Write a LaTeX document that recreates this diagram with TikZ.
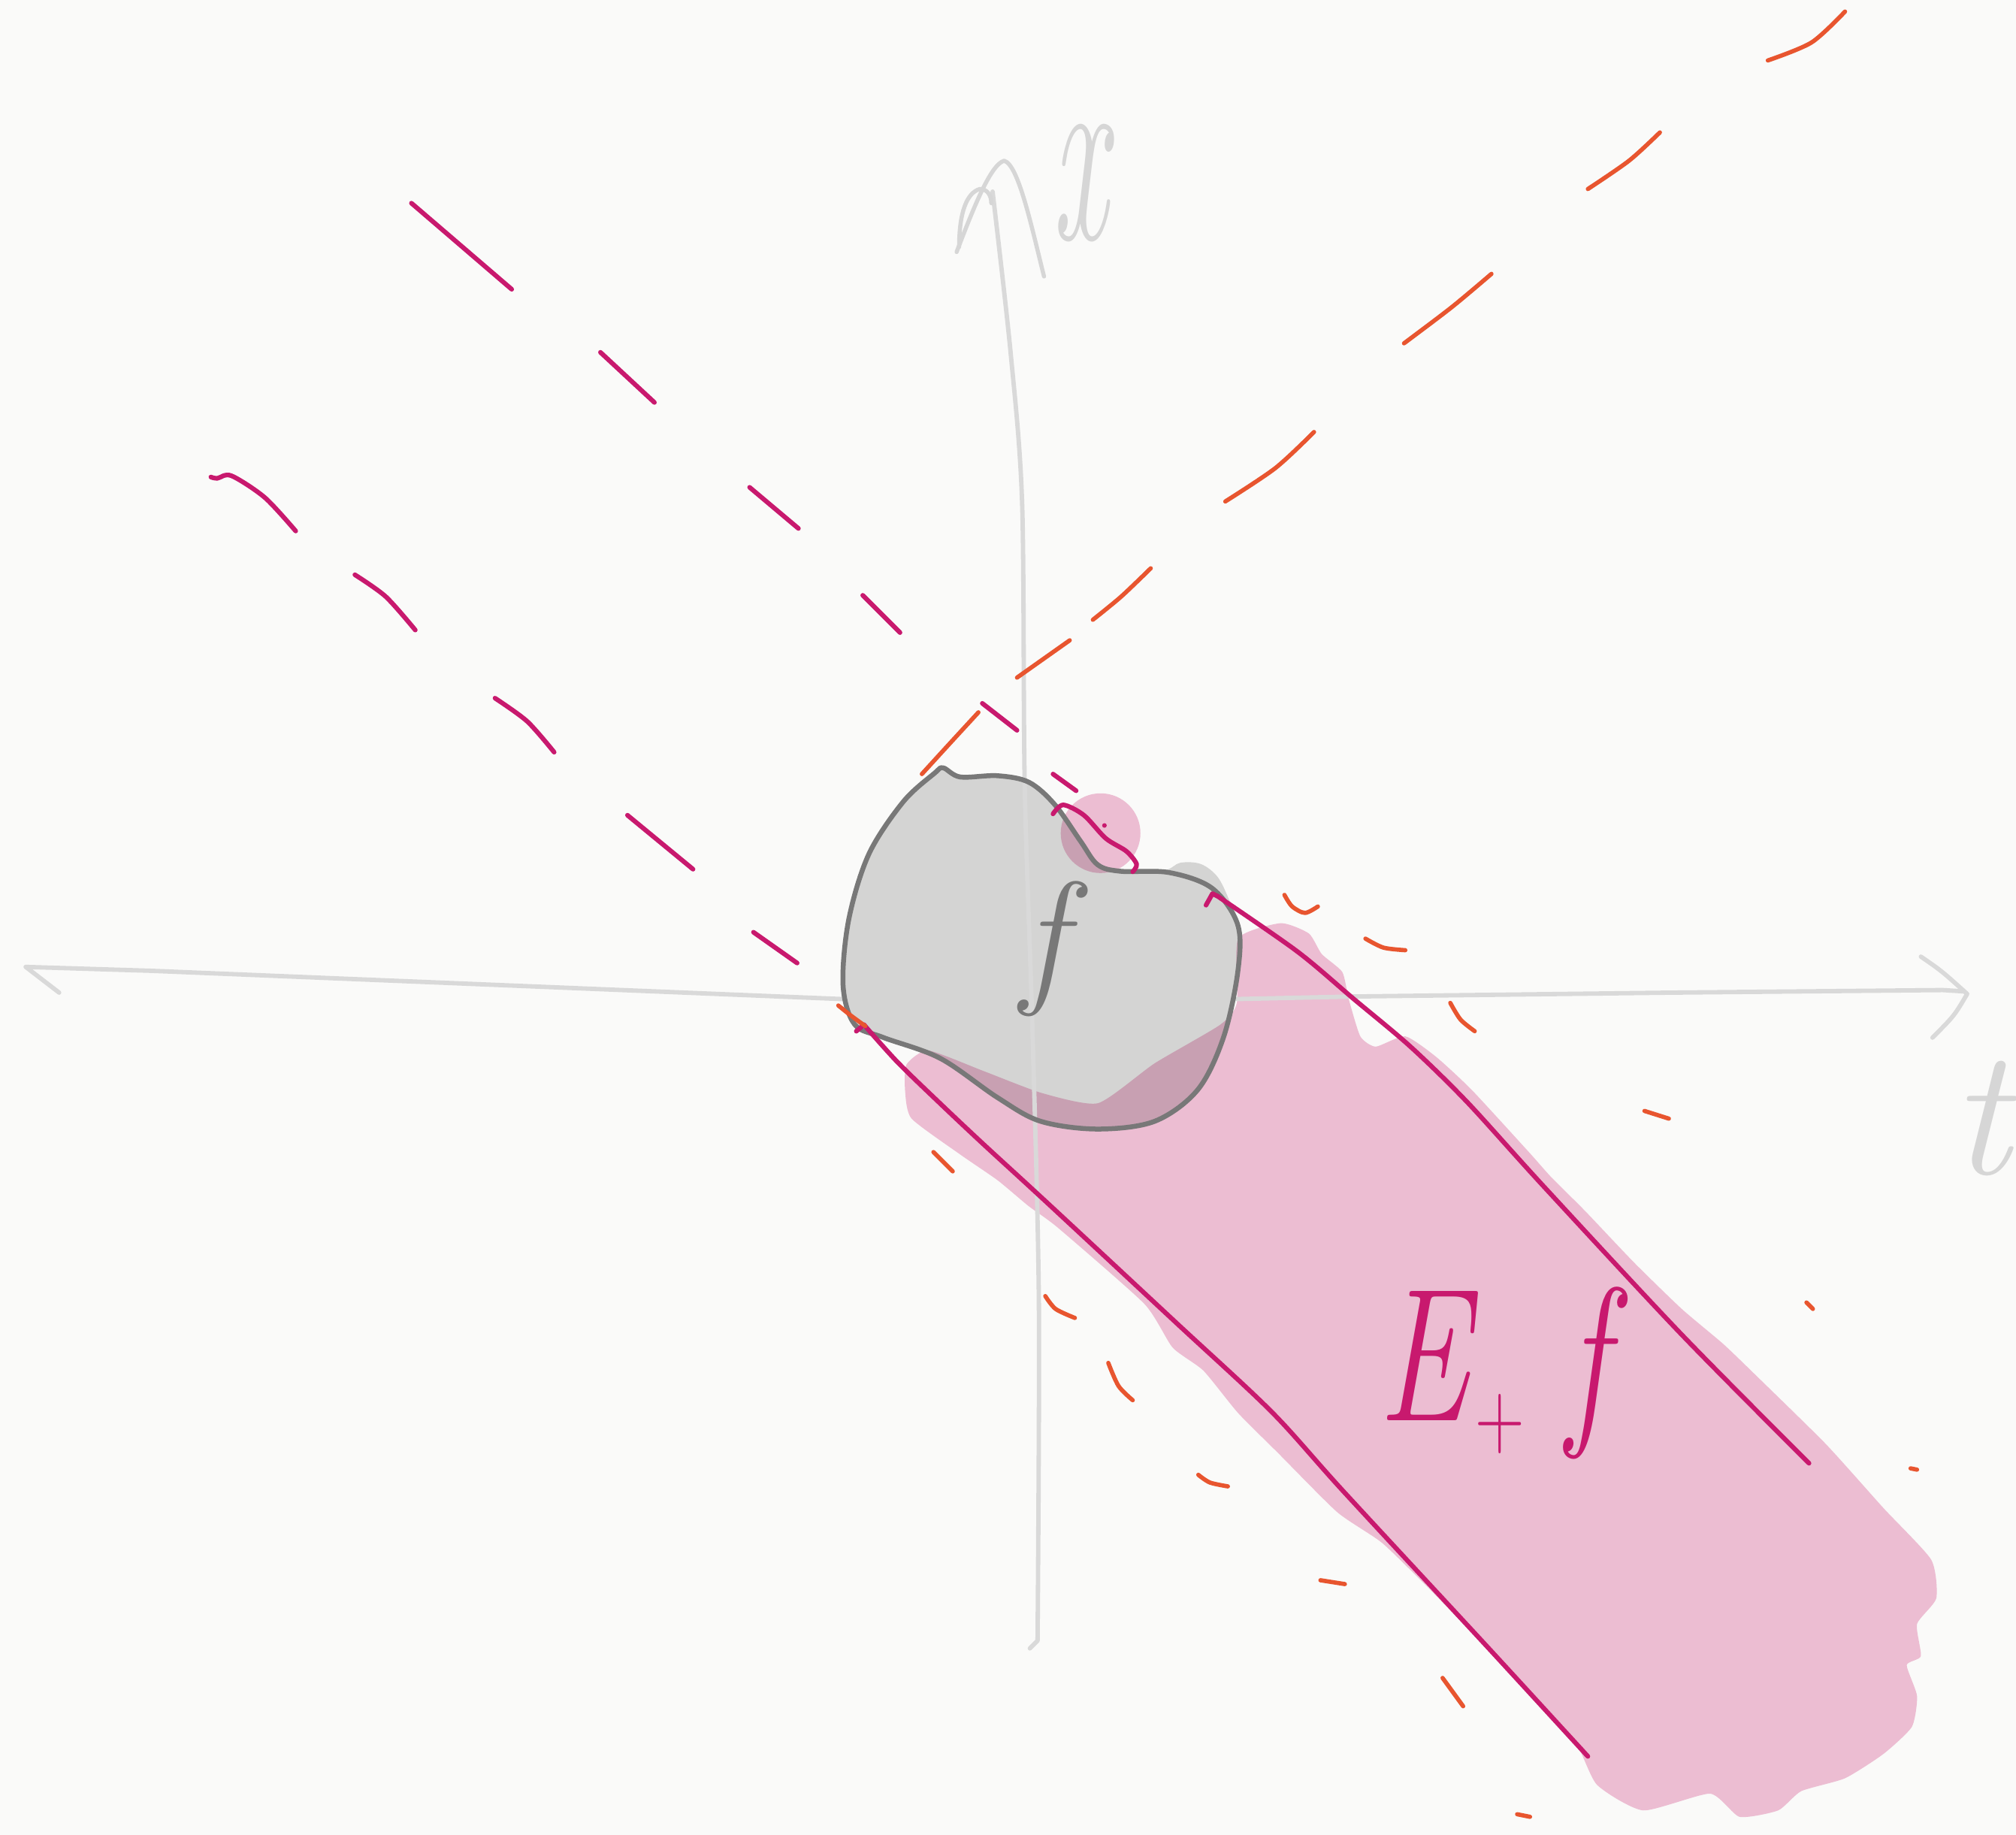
\documentclass[tikz,border=0pt]{standalone}
\definecolor{bgc}{HTML}{FAFAF9}
\definecolor{axisgray}{HTML}{D9D9D9}
\definecolor{magc}{HTML}{C8196E}
\definecolor{pinkf}{HTML}{ECBDD2}
\definecolor{blobfill}{HTML}{D9D9D9}
\definecolor{blobedge}{HTML}{787878}
\definecolor{orac}{HTML}{E8552F}
\definecolor{labgray}{HTML}{D6D6D6}
\tikzset{
  axisline/.style={draw=axisgray, line width=3.4mm, line cap=round, line join=round},
  axisthin/.style={draw=labgray, line width=3.2mm, line cap=round, line join=round},
  magline/.style={draw=magc, line width=3.6mm, line cap=round, line join=round},
  oradash/.style={draw=orac, line width=3.3mm, line cap=round, line join=round},
  blobline/.style={draw=blobedge, line width=3.8mm, line join=round},
  lbl/.style={inner sep=0pt, outer sep=0pt},
}
\begin{document}
\begin{tikzpicture}[x=1mm,y=-1mm]
\fill[bgc] (0,0) rectangle (1568,1427);
\useasboundingbox (0,0) rectangle (1568,1427);

% pink region E+f
\fill[pinkf] plot[smooth cycle, tension=0.35] coordinates {
 (963,730) (996,718) (1018,726) (1028,742) (1044,756) (1049,777) (1058,806)
 (1070,814) (1093,806) (1117,822) (1145,848) (1190,897) (1206,915) (1233,942) (1271,982)
 (1308,1018) (1340,1045) (1364,1068) (1420,1123) (1465,1173) (1502,1213)
 (1506,1243) (1491,1263) (1494,1288) (1483,1295) (1491,1319) (1487,1343)
 (1465,1364) (1435,1383) (1401,1393) (1383,1408) (1353,1413) (1330,1395)
 (1278,1408) (1242,1388) (1224,1352) (1186,1311) (1149,1274) (1112,1236)
 (1075,1200) (1040,1176) (994,1130) (963,1099) (936,1066) (912,1048)
 (890,1014) (823,955) (800,938) (776,918) (747,898) (709,870) (704,849)
 (705,828) (722,817) (765,833) (810,850) (854,858) (898,827) (949,797) (962,780)};
\fill[pinkf] (856,648) circle (31);

% gray blob f (fill, multiplied over pink)
\begin{scope}[blend mode=multiply]
\fill[blobfill] plot[smooth cycle, tension=0.55] coordinates {
 (733.6,597.2) (746.9,604.3) (775.8,603.3) (800.3,608.4) (820.3,625.7)
 (840.4,654.2) (853.7,672.5) (871.5,677.6) (905,677) (918,671) (934,672)
 (947,682) (956,700)
 (962.7,719.3) (962.7,756.0) (951.6,806.8) (931.6,847.5) (898.2,872.0)
 (853.7,878.1) (809.2,872.0) (775.8,853.6) (731.3,823.1) (686.8,806.8)
 (664.6,796.6) (655.7,766.1) (660.1,715.3) (675.7,664.4) (702.4,623.7)
 (726.9,601.3)};
\end{scope}

% axes
\draw[axisline] (46,772) -- (20,752) -- (117,755) -- (655,777);
\draw[axisline] (962,777) -- (1053,775) -- (1300,772) -- (1511,770) -- (1527,771);
\draw[axisline] (1494,744) .. controls (1510,755) .. (1530,773) .. controls (1520,790) .. (1503,807);
\draw[axisline] plot[smooth, tension=0.5] coordinates {(772,149) (786,274) (795,392) (797,611) (803,800) (808,1013) (807,1276)} -- (801,1282);
\draw[axisthin] (744,196) .. controls (756,165) and (770,128) .. (781,125) .. controls (792,128) and (802,175) .. (812,215);
\draw[axisthin] (746,192) .. controls (746,165) and (752,150) .. (762,147) .. controls (768,147) and (771,152) .. (771,158);

% blob outline
\draw[blobline] plot[smooth cycle, tension=0.55] coordinates {
 (733.6,597.2) (746.9,604.3) (775.8,603.3) (800.3,608.4) (820.3,625.7)
 (840.4,654.2) (853.7,672.5) (871.5,677.6) (909.3,678.6) (942.7,690.8)
 (962.7,719.3) (962.7,756.0) (951.6,806.8) (931.6,847.5) (898.2,872.0)
 (853.7,878.1) (809.2,872.0) (775.8,853.6) (731.3,823.1) (686.8,806.8)
 (664.6,796.6) (655.7,766.1) (660.1,715.3) (675.7,664.4) (702.4,623.7)
 (726.9,601.3)};
\node[lbl, anchor=base, text=blobedge] (fLabel) at (812,767)
  {\fontsize{330}{330}\selectfont\itshape f};

% magenta boundary lines
\draw[magline] (938,704) -- (943,695) -- (947,697);
\draw[magline] plot[smooth, tension=0.5] coordinates {(947,697) (1009,740) (1053,777) (1097,814) (1141,857) (1200,922) (1308,1038) (1407,1138)};
\draw[magline] (666,802) -- (672,797);
\draw[magline] plot[smooth, tension=0.5] coordinates {(672,797) (698,826) (731,858) (765,890) (814,935) (914,1028) (989,1098) (1045,1160) (1157,1281) (1235,1366)};
\draw[magline] plot[smooth, tension=0.5] coordinates {(819,633) (827,626) (843,634) (860,652) (876,662) (884,672) (881,678)};
\fill[magc] (859,642) circle (1.8);

% magenta dashes
\draw[magline] (320,158) -- (398,225);
\draw[magline] (467,274) -- (509,313);
\draw[magline] (583,379) -- (621,411);
\draw[magline] (671,463) -- (700,492);
\draw[magline] (764,547) -- (791,568);
\draw[magline] (819,602) -- (837,615);
\draw[magline] plot[smooth, tension=0.5] coordinates {(164,371) (169,372) (180,370) (206,387) (230,413)};
\draw[magline] plot[smooth, tension=0.5] coordinates {(276,447) (300,464) (323,490)};
\draw[magline] plot[smooth, tension=0.5] coordinates {(385,543) (410,561) (431,585)};
\draw[magline] (488,634) -- (539,676);
\draw[magline] (586,725) -- (620,749);

% orange dashes (upper curve)
\draw[oradash] plot[smooth] coordinates {(1375,47) (1409,33) (1435,9)};
\draw[oradash] plot[smooth] coordinates {(1235,147) (1267,125) (1291,103)};
\draw[oradash] plot[smooth] coordinates {(1092,267) (1129,239) (1160,213)};
\draw[oradash] plot[smooth] coordinates {(953,390) (992,364) (1022,336)};
\draw[oradash] plot[smooth] coordinates {(850,482) (872,464) (895,442)};
\draw[oradash] (791,527) -- (832,498);
\draw[oradash] plot[smooth] coordinates {(717,602) (738,579) (761,554)};
\draw[oradash] plot[smooth] coordinates {(652,782) (662,790) (673,798)};

% orange dashes (lower arcs)
\draw[oradash] plot[smooth] coordinates {(999,696) (1005,705) (1015,710) (1025,705)};
\draw[oradash] plot[smooth] coordinates {(1062,730) (1076,737) (1093,739)};
\draw[oradash] plot[smooth] coordinates {(1128,780) (1136,793) (1147,802)};
\draw[oradash] (1279,864) -- (1298,870);
\draw[oradash] (1405,1013) -- (1410,1018);
\draw[oradash] (1486,1142) -- (1491,1143);
\draw[oradash] (726,896) -- (741,911);
\draw[oradash] plot[smooth] coordinates {(813,1008) (821,1018) (836,1025)};
\draw[oradash] plot[smooth] coordinates {(862,1060) (870,1078) (881,1089)};
\draw[oradash] plot[smooth] coordinates {(932,1147) (941,1153) (955,1156)};
\draw[oradash] (1027,1229) -- (1046,1232);
\draw[oradash] (1122,1305) -- (1138,1327);
\draw[oradash] (1180,1411) -- (1190,1413);

% labels
\node[lbl, anchor=base west, text=magc] (EfLabel) at (1072,1105)
  {\scalebox{0.72}[1]{\fontsize{420}{420}\selectfont\itshape E\hspace{20pt}\raisebox{-60pt}{\fontsize{210}{210}\selectfont\upshape +}\hspace{130pt}f}};
\node[lbl, anchor=base, text=labgray] (xLabel) at (840,186)
  {\scalebox{0.8}[1.7]{\fontsize{340}{340}\selectfont\itshape x}};
\node[lbl, anchor=base, text=labgray] (tLabel) at (1540,913)
  {\fontsize{400}{400}\selectfont\itshape t};
\end{tikzpicture}
\end{document}
